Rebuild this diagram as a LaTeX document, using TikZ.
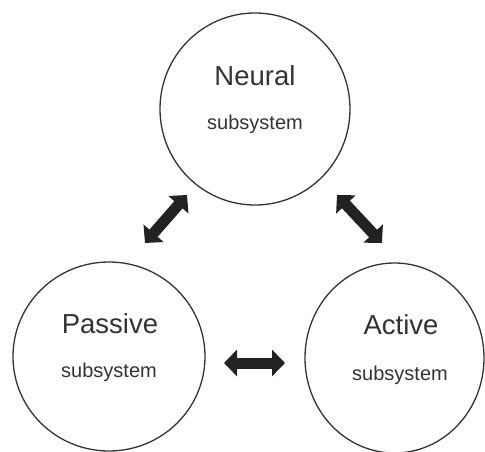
\documentclass[tikz,border=0pt]{standalone}
\usepackage{fontspec}
\setmainfont{Liberation Sans}
\usetikzlibrary{shapes.geometric,arrows.meta}
\definecolor{ink}{HTML}{333333}
\definecolor{fat}{HTML}{222222}
\tikzset{
  sysring/.style={draw=ink, line width=1.3pt, ellipse, inner sep=0pt},
  titletext/.style={inner sep=0pt, anchor=base, text=ink, font=\fontsize{27.5}{30}\selectfont},
  subtext/.style={inner sep=0pt, anchor=base, text=ink, font=\fontsize{20}{22}\selectfont},
  fatarrow/.style={draw=fat, line width=11pt,
    {Triangle[width=26pt,length=13pt]}-{Triangle[width=26pt,length=13pt]}}
}
\begin{document}
\begin{tikzpicture}[x=1pt,y=1pt]
\useasboundingbox (0,0) rectangle (485,451);
\node[sysring, minimum width=190pt, minimum height=192pt] (neural) at (255,342) {};
\node[sysring, minimum width=192pt, minimum height=189pt] (passive) at (109,94.5) {};
\node[sysring, minimum width=179pt, minimum height=190pt] (active) at (394.5,93) {};
\node[titletext] (neuralt) at (255,366) {Neural};
\node[subtext] (neurals) at (255,322) {subsystem};
\node[titletext] (passivet) at (110,118) {Passive};
\node[subtext] (passives) at (109,74) {subsystem};
\node[titletext] (activet) at (401,117) {Active};
\node[subtext] (actives) at (400,71) {subsystem};
\coordinate (l1) at (145,208);
\coordinate (l2) at (187,256);
\coordinate (r1) at (337,256);
\coordinate (r2) at (382,208);
\coordinate (h1) at (224,88);
\coordinate (h2) at (285,88);
\draw[fatarrow] (l1) -- (l2);
\draw[fatarrow] (r1) -- (r2);
\draw[fatarrow] (h1) -- (h2);
\end{tikzpicture}
\end{document}
